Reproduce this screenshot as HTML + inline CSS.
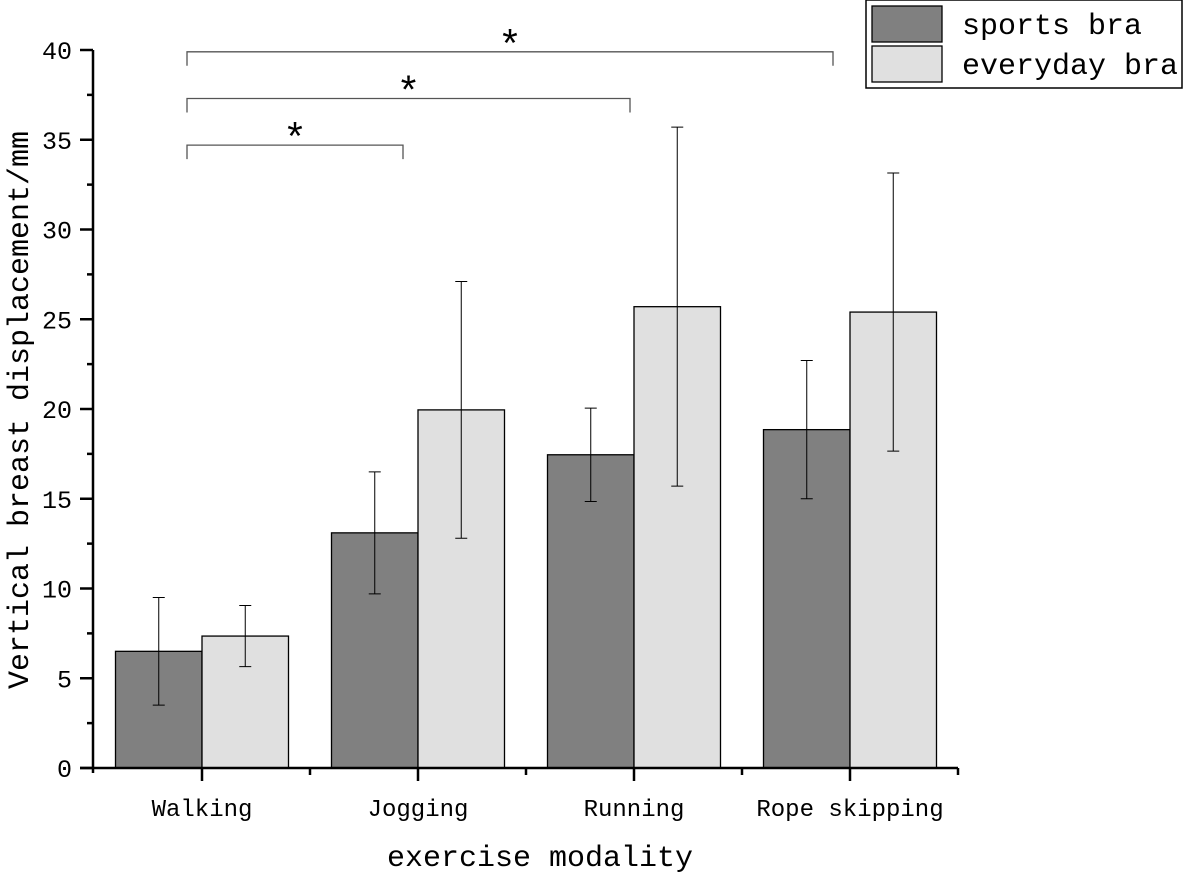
<!DOCTYPE html>
<html><head><meta charset="utf-8"><style>
html,body{margin:0;padding:0;background:#fff;}
svg text{font-family:"Liberation Mono","Noto Serif CJK SC",monospace;fill:#000;}
</style></head><body>
<svg id="chart" width="1184" height="872" xmlns="http://www.w3.org/2000/svg"></svg>
<script>
const categories=["Walking","Jogging","Running","Rope skipping"];
const sportsMean=[6.5,13.1,17.45,18.85];
const sportsSD=[3.0,3.4,2.6,3.85];
const everydayMean=[7.35,19.95,25.7,25.4];
const everydaySD=[1.7,7.15,10.0,7.75];
const yTicks=[0,5,10,15,20,25,30,35,40];
const sigPairs=[[0,1,34.7],[0,2,37.3],[0,3,39.9]];

const svg=document.getElementById('chart');
const NS="http://www.w3.org/2000/svg";
const y0=768,y1=50,ymax=40;
const yS=v=>y0-(v/ymax)*(y0-y1);
const xC=i=>202+i*216;
const bw=86.5;
const bracketEndAdj=[0,-15,-4,-17];
function mk(tag,attrs,parent){const e=document.createElementNS(NS,tag);for(const k in attrs)e.setAttribute(k,attrs[k]);(parent||svg).appendChild(e);return e;}

categories.forEach((c,i)=>{
  const g=mk('g',{});
  
  
  const b1=mk('rect',{x:xC(i)-bw,y:yS(sportsMean[i]),width:bw,height:y0-yS(sportsMean[i]),fill:'#808080',stroke:'#000','stroke-width':1.3},g);
  
  
  const b2=mk('rect',{x:xC(i),y:yS(everydayMean[i]),width:bw,height:y0-yS(everydayMean[i]),fill:'#e0e0e0',stroke:'#000','stroke-width':1.3},g);
  
  
  [[xC(i)-bw/2,sportsMean[i],sportsSD[i]],[xC(i)+bw/2,everydayMean[i],everydaySD[i]]].forEach(([x,m,s])=>{
    const e=mk('path',{d:`M${x},${yS(m-s)}V${yS(m+s)}M${x-6},${yS(m-s)}H${x+6}M${x-6},${yS(m+s)}H${x+6}`,stroke:'#000','stroke-width':1,fill:'none'},g);
    
    
  });
});

const ax=mk('path',{d:`M93,${y1}V773M80,${y0}H958`,stroke:'#000','stroke-width':2.5,fill:'none'});


yTicks.forEach(t=>{
  const tk=mk('line',{x1:80,x2:93,y1:yS(t),y2:yS(t),stroke:'#000','stroke-width':2.5});
  
  
  const mn=t+2.5;
  if(mn<ymax){const m=mk('line',{x1:87,x2:93,y1:yS(mn),y2:yS(mn),stroke:'#000','stroke-width':2.5});
  
  }
  const tl=mk('text',{x:72,y:yS(t)+9,'text-anchor':'end','font-size':25});
  tl.textContent=t;
  
  
});
categories.forEach((c,i)=>{
  const tk=mk('line',{x1:xC(i),x2:xC(i),y1:y0,y2:781,stroke:'#000','stroke-width':2.5});
  
  
  const mt=mk('line',{x1:xC(i)+108,x2:xC(i)+108,y1:y0,y2:775,stroke:'#000','stroke-width':2.5});
  
  
  const tl=mk('text',{x:xC(i),y:816,'text-anchor':'middle','font-size':24});
  tl.textContent=c;
  
  
});
const xt=mk('text',{x:540,y:866,'text-anchor':'middle','font-size':30});
xt.textContent='exercise modality';


const yt=mk('text',{x:0,y:0,'text-anchor':'middle','font-size':30,transform:'translate(28,410) rotate(-90)'});
yt.textContent='Vertical breast displacement/mm';



sigPairs.forEach(([a,b,v])=>{
  const y=yS(v);
  const xa=xC(a)-15, xb=xC(b)+bracketEndAdj[b];
  const p=mk('path',{d:`M${xa},${y+14}V${y}H${xb}V${y+14}`,stroke:'#555','stroke-width':1.3,fill:'none'});
  
  
  const s=mk('text',{x:(xa+xb)/2,y:y+6,'text-anchor':'middle','font-size':40});
  s.textContent='*';
  
  
});

const lg=mk('g',{});


mk('rect',{x:866,y:0,width:316,height:88,fill:'#fff',stroke:'#000','stroke-width':1.5},lg);
[['#808080','sports bra',6],['#e0e0e0','everyday bra',46]].forEach(([f,t,y])=>{
  const r=mk('rect',{x:872,y:y,width:70,height:36,fill:f,stroke:'#000','stroke-width':1.3},lg);
  
  
  const tx=mk('text',{x:962,y:y+28,'font-size':30},lg);
  tx.textContent=t;
  
  
});
</script>
</body></html>
